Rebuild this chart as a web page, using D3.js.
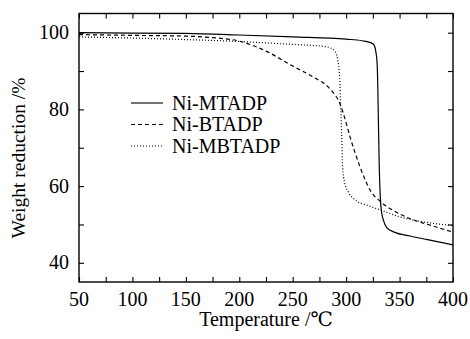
<!DOCTYPE html>
<meta charset="utf-8">
<style>
  body { margin: 0; background: #fff; }
</style>
<svg width="470" height="339"></svg>
<script src="https://cdnjs.cloudflare.com/ajax/libs/d3/7.8.5/d3.min.js"></script>
<script>
// temperature (C) / weight (%) pairs
var mtadpT = [50, 100, 150, 200, 250, 300, 315, 323, 326, 327.5, 329, 329.7, 330.3, 331, 332, 333, 335, 338, 345, 360, 375, 400];
var mtadpW = [100, 99.9, 99.8, 99.4, 98.9, 98.3, 97.9, 97.4, 96.8, 95.5, 92, 85, 75, 65, 57, 53.5, 51, 49.2, 48, 47, 46.1, 44.7];

var btadpT = [50, 100, 150, 175, 200, 225, 250, 270, 285, 294, 300, 304, 308, 313, 318, 323, 332, 345, 360, 380, 400];
var btadpW = [99.5, 99.3, 99.1, 98.7, 97.8, 95.2, 91.3, 88.3, 85.3, 81.6, 76.5, 72.5, 69, 65, 61.5, 58.7, 56, 53.5, 51.5, 49.7, 48];

var mbtadpT = [50, 100, 150, 200, 240, 260, 282, 289, 292, 294, 295, 296, 296.7, 298.5, 302, 308, 320, 335, 350, 370, 400];
var mbtadpW = [98.9, 98.6, 98.2, 97.7, 97.1, 96.8, 96.3, 95.3, 93, 88, 80, 72, 65, 61, 58.5, 56.5, 55, 53.5, 52, 50.8, 49.7];

var seriesNames = ["Ni-MTADP", "Ni-BTADP", "Ni-MBTADP"];
var xTicks = [50, 100, 150, 200, 250, 300, 350, 400];
var yTicks = [40, 60, 80, 100];

var serif = "'Liberation Serif', 'Times New Roman', 'DejaVu Serif', serif";
var svg = d3.select("svg");
var pLeft = 79, pRight = 453, pTop = 13.5, pBottom = 282;

var x = d3.scaleLinear().domain([50, 400]).range([pLeft, pRight]);
var y = d3.scaleLinear().domain([35, 105]).range([pBottom, pTop]);

var dashes = [null, "4,3", "1,2"];
var series = [
  d3.zip(mtadpT, mtadpW),
  d3.zip(btadpT, btadpW),
  d3.zip(mbtadpT, mbtadpW)
];

var line = d3.line()
  .x(function(d) { return x(d[0]); })
  .y(function(d) { return y(d[1]); })
  .curve(d3.curveMonotoneX);

// curves
svg.append("g").selectAll("path")
  .data(series)
  .enter().append("path")
    .attr("d", line)
    .attr("fill", "none")
    .attr("stroke", "#000")
    .attr("stroke-width", 1.2)
    .attr("stroke-dasharray", function(d, i) { return dashes[i]; });

// axes, ticks pointing inward
var tickLen = 5;
svg.append("g")
  .attr("transform", "translate(0," + pBottom + ")")
  .call(d3.axisBottom(x).tickValues(d3.range(50, 401, 25)).tickSize(-tickLen).tickFormat(""));
svg.append("g")
  .attr("transform", "translate(0," + pTop + ")")
  .call(d3.axisTop(x).tickValues(d3.range(50, 401, 25)).tickSize(-tickLen).tickFormat(""));
svg.append("g")
  .attr("transform", "translate(" + pLeft + ",0)")
  .call(d3.axisLeft(y).tickValues(d3.range(40, 101, 10)).tickSize(-tickLen).tickFormat(""));
svg.append("g")
  .attr("transform", "translate(" + pRight + ",0)")
  .call(d3.axisRight(y).tickValues(d3.range(40, 101, 10)).tickSize(-tickLen).tickFormat(""));
svg.selectAll(".domain").remove();
svg.selectAll(".tick line").attr("stroke", "#000").attr("stroke-width", 1.1);

svg.append("rect")
  .attr("x", pLeft).attr("y", pTop)
  .attr("width", pRight - pLeft).attr("height", pBottom - pTop)
  .attr("fill", "none").attr("stroke", "#000").attr("stroke-width", 1.4);

// tick labels
svg.append("g").selectAll("text")
  .data(xTicks)
  .enter().append("text")
    .attr("x", function(d) { return x(d); })
    .attr("y", 306)
    .attr("text-anchor", "middle")
    .attr("font-family", serif)
    .attr("font-size", 20)
    .text(function(d) { return d; });

svg.append("g").selectAll("text")
  .data(yTicks)
  .enter().append("text")
    .attr("x", 69)
    .attr("y", function(d) { return y(d) + 6.5; })
    .attr("text-anchor", "end")
    .attr("font-family", serif)
    .attr("font-size", 20)
    .text(function(d) { return d; });

// axis titles
svg.append("text")
  .attr("x", (pLeft + pRight) / 2)
  .attr("y", 326)
  .attr("text-anchor", "middle")
  .attr("font-family", serif)
  .attr("font-size", 20)
  .text("Temperature /\u2103");

svg.append("text")
  .attr("transform", "translate(25,158) rotate(-90)")
  .attr("text-anchor", "middle")
  .attr("font-family", serif)
  .attr("font-size", 19.5)
  .text("Weight reduction /%");

// legend
var legend = svg.append("g").selectAll("g")
  .data(seriesNames)
  .enter().append("g")
    .attr("transform", function(d, i) { return "translate(131," + (103 + i * 21.5) + ")"; });
legend.append("line")
  .attr("x1", 0).attr("x2", 32)
  .attr("stroke", "#000").attr("stroke-width", 1.1)
  .attr("stroke-dasharray", function(d, i) { return dashes[i]; });
legend.append("text")
  .attr("x", 41).attr("y", 6.5)
  .attr("font-family", serif)
  .attr("font-size", 20)
  .text(function(d) { return d; });
</script>
